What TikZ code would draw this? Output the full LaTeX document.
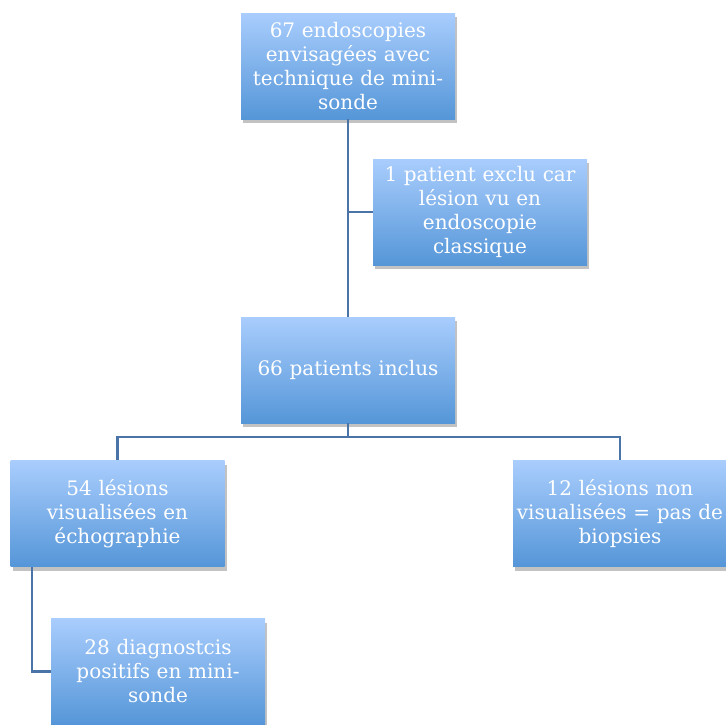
\documentclass[tikz,border=0pt]{standalone}
\usepackage{fontspec}
\setmainfont{DejaVu Serif}
\usetikzlibrary{shadows}
\definecolor{linec}{HTML}{4A73A8}
\definecolor{boxtop}{HTML}{A9CDFD}
\definecolor{boxbot}{HTML}{5596D8}
\tikzset{
  fbox/.style={rectangle, minimum width=214pt, minimum height=106pt, inner sep=0pt,
    top color=boxtop, bottom color=boxbot, draw=none, text=white,
    text width=212pt, align=center,
    font=\fontsize{20}{24}\selectfont,
    drop shadow={shadow xshift=2pt, shadow yshift=-4pt, opacity=0.4, fill=black!60}},
  conn/.style={draw=linec, line width=2.2pt}
}
\begin{document}
\begin{tikzpicture}[x=1pt,y=-1pt]
\useasboundingbox (0,0) rectangle (726,724);
\clip (0,0) rectangle (726,724);
\node[fbox] (b1) at (348,66) {67 endoscopies\\envisagées avec\\technique de mini-\\sonde};
\node[fbox] (b2) at (480,212) {1 patient exclu car\\lésion vu en\\endoscopie\\classique};
\node[fbox] (b3) at (348,370) {66 patients inclus};
\node[fbox] (b4) at (117.5,513.5) {54 lésions\\visualisées en\\échographie};
\node[fbox] (b5) at (620,513.5) {12 lésions non\\visualisées = pas de\\biopsies};
\node[fbox] (b6) at (158,671.5) {28 diagnostcis\\positifs en mini-\\sonde};
\coordinate (h) at (348,437);
\coordinate (c4) at (32,567);
\draw[conn] (b1.south) -- (b3.north);
\draw[conn] (b2.west) -- (b2.west -| b1.south);
\draw[conn] (b3.south) -- (h) -| (b4.north);
\draw[conn] (h) -| (b5.north);
\draw[conn] (c4) |- (b6.west);
\end{tikzpicture}
\end{document}
